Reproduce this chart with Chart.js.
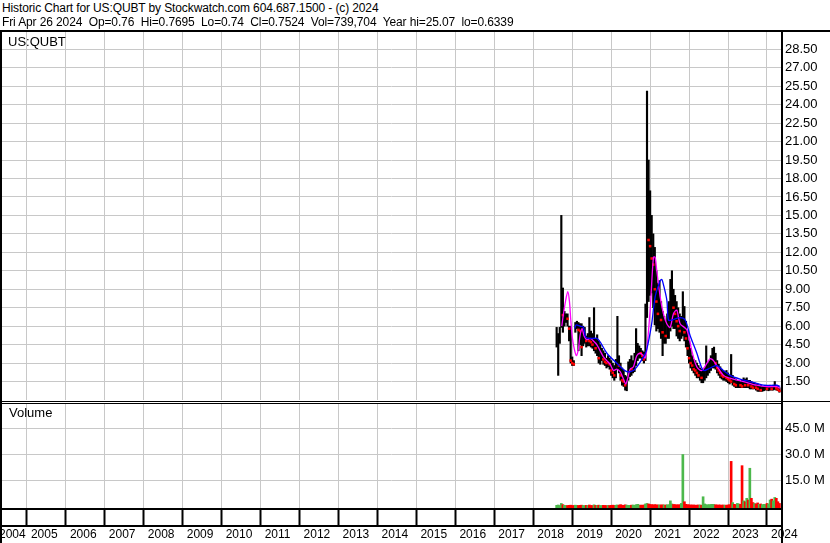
<!DOCTYPE html>
<html>
<head>
<meta charset="utf-8">
<script src="https://cdn.jsdelivr.net/npm/chart.js@4.4.1/dist/chart.umd.min.js"></script>
<style>
html,body{margin:0;padding:0;background:#fff;}
#wrap{position:relative;width:830px;height:543px;overflow:hidden;background:#fff;font-family:"Liberation Sans",Arial,sans-serif;}
.t{position:absolute;font-size:13px;line-height:15px;white-space:pre;color:#000;}
.h{position:absolute;font-size:12px;line-height:14px;white-space:pre;color:#000;letter-spacing:-0.12px;}
.ln{position:absolute;background:#000;pointer-events:none;}
#c1{position:absolute;left:0;top:32px;}
#c2{position:absolute;left:0;top:403px;}
</style>
</head>
<body>
<div id="wrap">
<canvas id="c1" width="830" height="368"></canvas>
<canvas id="c2" width="830" height="140"></canvas>
<div class="h" style="left:2px;top:1px">Historic Chart for US:QUBT by Stockwatch.com 604.687.1500 - (c) 2024</div>
<div class="h" style="left:2px;top:15px">Fri Apr 26 2024  Op=0.76  Hi=0.7695  Lo=0.74  Cl=0.7524  Vol=739,704  Year hi=25.07  lo=0.6339</div>
<div class="t" style="left:8px;top:34px">US:QUBT</div>
<div class="t" style="left:9px;top:405px">Volume</div>
<div class="ln" style="left:0;top:30px;width:830px;height:2px"></div>
<div class="ln" style="left:0;top:30px;width:2px;height:513px"></div>
<div class="ln" style="left:781px;top:30px;width:2px;height:513px"></div>
<div class="ln" style="left:0;top:401px;width:830px;height:1px"></div>
<div class="ln" style="left:0;top:403px;width:781px;height:1px"></div>
<div class="ln" style="left:0;top:508px;width:781px;height:2px"></div>
<div class="ln" style="left:0;top:525px;width:781px;height:2px"></div>
</div>
<script>
// ---------- data ----------
const dates = [
2018.60,2018.64,2018.68,2018.72,2018.76,2018.80,2018.84,2018.88,2018.92,2018.96,
2019.00,2019.04,2019.08,2019.12,2019.16,2019.20,2019.24,2019.28,2019.32,2019.36,
2019.40,2019.44,2019.48,2019.52,2019.56,2019.60,2019.64,2019.68,2019.72,2019.76,
2019.80,2019.84,2019.88,2019.92,2019.96,2020.00,2020.04,2020.08,2020.12,2020.16,
2020.20,2020.24,2020.28,2020.32,2020.36,2020.40,2020.44,2020.48,2020.52,2020.56,
2020.60,2020.64,2020.68,2020.72,2020.76,2020.80,2020.84,2020.88,2020.92,2020.96,
2021.00,2021.04,2021.08,2021.12,2021.16,2021.20,2021.24,2021.28,2021.32,2021.36,
2021.40,2021.44,2021.48,2021.52,2021.56,2021.60,2021.64,2021.68,2021.72,2021.76,
2021.80,2021.84,2021.88,2021.92,2021.96,2022.00,2022.04,2022.08,2022.12,2022.16,
2022.20,2022.24,2022.28,2022.32,2022.36,2022.40,2022.44,2022.48,2022.52,2022.56,
2022.60,2022.64,2022.68,2022.72,2022.76,2022.80,2022.84,2022.88,2022.92,2022.96,
2023.00,2023.04,2023.08,2023.12,2023.16,2023.20,2023.24,2023.28,2023.32,2023.36,
2023.40,2023.44,2023.48,2023.52,2023.56,2023.60,2023.64,2023.68,2023.72,2023.76,
2023.80,2023.84,2023.88,2023.92,2023.96,2024.00,2024.04,2024.08,2024.12,2024.16,
2024.20,2024.24,2024.28,2024.32];
const highs = [
5.9,5.4,5.9,15.0,9.1,7.2,7.0,7.0,6.0,6.0,
3.5,3.2,6.3,6.4,6.3,6.2,6.2,6.0,5.9,5.2,
5.4,6.7,5.6,5.4,7.5,5.0,5.3,4.8,4.5,4.2,
4.0,3.8,3.4,3.6,3.4,3.2,3.0,2.8,3.3,6.8,
3.6,3.0,2.6,2.4,2.0,1.9,3.1,3.3,3.6,3.2,
3.8,5.8,4.6,4.4,4.2,4.0,3.9,7.8,25.1,19.5,
17.0,15.0,13.5,12.4,10.5,9.5,9.7,8.0,7.2,6.8,
6.4,7.0,8.0,9.8,10.5,9.0,8.5,8.0,7.5,7.0,
6.8,8.8,7.6,6.4,5.6,4.8,4.2,3.6,3.3,3.2,
3.0,2.8,2.6,2.5,2.4,2.6,4.4,3.0,3.2,3.6,
4.2,4.3,3.8,3.2,2.9,2.7,2.5,2.4,2.3,2.4,
2.2,2.0,3.7,2.0,1.8,1.7,1.6,1.6,1.5,1.6,
1.8,1.7,1.8,1.6,1.6,1.5,1.4,1.4,1.3,1.3,
1.2,1.2,1.1,1.1,1.2,1.1,1.1,1.2,1.1,1.2,
1.5,1.2,1.1,1.0];
const lows = [
4.3,2.0,4.6,5.9,5.5,6.0,6.3,6.0,4.8,3.0,
2.8,2.8,5.5,5.8,4.0,4.5,3.6,4.4,4.6,4.3,
4.4,4.4,4.3,4.2,4.0,3.8,3.6,3.0,2.9,3.2,
2.9,2.8,2.6,2.7,2.5,2.0,1.8,1.6,1.8,2.5,
2.2,1.6,1.2,1.1,0.8,0.75,1.6,1.9,2.0,2.2,
2.3,2.8,3.2,3.4,3.4,3.2,3.0,3.2,6.7,8.0,
8.5,8.7,7.5,6.1,5.6,5.8,5.5,5.0,3.6,4.6,
4.6,5.0,5.0,5.6,6.0,5.8,5.8,5.2,5.0,4.8,
5.0,5.2,4.8,4.3,3.6,3.0,2.6,2.4,2.2,2.0,
1.8,1.8,1.6,1.4,1.4,1.6,1.8,2.0,2.2,2.4,
2.6,2.6,2.5,2.2,2.0,1.8,1.7,1.6,1.6,1.5,
1.4,1.3,1.4,1.2,1.1,1.0,1.0,1.0,1.0,1.0,
1.0,1.0,1.0,1.0,0.9,0.9,0.9,0.9,0.8,0.7,
0.7,0.7,0.7,0.75,0.8,0.8,0.75,0.8,0.8,0.8,
0.85,0.8,0.75,0.63];
const closes = [
4.6,4.8,5.5,12.5,6.9,6.9,6.9,6.6,5.8,3.2,
3.0,2.9,6.1,6.2,5.7,5.6,4.3,5.0,5.3,4.8,
5.0,4.8,4.7,4.5,4.6,4.2,4.6,3.4,3.5,3.6,
3.3,3.1,3.0,3.2,2.9,2.4,2.2,2.0,2.6,3.2,
2.8,2.0,1.6,1.5,1.2,1.6,2.4,2.6,2.5,2.6,
2.9,3.5,3.8,3.9,3.8,3.6,3.3,6.5,14.0,13.0,
12.5,11.5,11.0,9.0,8.0,7.0,7.5,6.5,5.5,5.8,
5.2,6.0,6.5,7.8,8.4,7.5,7.0,6.4,6.0,5.6,
6.0,6.3,5.5,5.0,4.2,3.4,3.0,2.8,2.5,2.4,
2.2,2.0,2.0,1.8,1.9,2.0,2.2,2.4,2.6,3.0,
3.3,3.6,3.0,2.6,2.4,2.2,2.0,1.9,1.9,1.8,
1.7,1.6,1.5,1.5,1.3,1.2,1.2,1.3,1.2,1.1,
1.3,1.2,1.3,1.2,1.25,1.1,1.0,1.1,1.0,0.9,
0.9,0.8,0.85,0.9,0.95,0.9,0.9,0.95,0.9,0.95,
1.0,0.95,0.85,0.75];
// volume in millions of shares
const volumes = [
0.4,0.6,0.3,1.5,0.8,0.4,0.3,0.3,0.4,0.5,0.3,0.3,
0.5,0.4,0.3,0.4,0.5,0.3,0.3,0.4,0.3,0.6,
0.3,0.3,0.7,0.4,0.4,0.5,0.3,0.3,0.4,0.3,
0.3,0.4,0.3,0.4,0.5,0.4,0.5,0.6,0.5,0.8,
0.5,0.4,0.7,0.5,0.4,0.4,0.5,0.6,0.4,0.8,
1.0,0.6,0.5,0.5,0.6,1.2,
1.5,1.2,0.9,0.8,0.7,0.8,0.7,0.6,0.7,0.6,0.7,0.6,0.6,0.7,0.8,
3.0,
1.2,0.9,0.8,0.7,0.7,0.8,1.5,
30.0,
2.5,1.0,0.8,0.7,0.6,0.6,0.6,0.5,0.5,0.6,0.6,0.5,
5.4,
1.2,0.8,0.7,0.8,0.9,1.0,0.9,0.7,0.6,0.6,0.6,0.5,0.6,0.5,0.5,0.6,0.8,
26.0,
2.0,1.0,0.8,1.5,1.2,1.0,
23.5,
3.0,2.5,4.5,3.5,
22.0,
4.5,2.0,1.5,1.2,1.8,1.0,1.2,0.8,1.0,0.9,1.5,1.2,3.5,4.0,3.0,5.0,4.5,2.5,1.5];
// short moving average (magenta)
const maShortT = [2018.732,2018.775,2018.826,2018.886,2018.929,2018.963,2019.006,2019.057,2019.109,2019.160,
2019.203,2019.254,2019.305,2019.374,2019.459,2019.545,2019.631,2019.716,2019.802,2019.887,
2019.973,2020.058,2020.144,2020.230,2020.315,2020.375,2020.427,2020.486,2020.572,2020.658,
2020.743,2020.829,2020.872,2020.914,2021.000,2021.085,2021.128,2021.171,2021.257,2021.342,
2021.428,2021.513,2021.599,2021.684,2021.770,2021.941,2022.070,2022.198,2022.326,2022.540,
2022.626,2022.883,2023.139,2023.396,2023.738,2023.995,2024.252,2024.337];
const maShortV = [6.0,7.0,8.0,8.8,8.0,6.5,5.0,4.1,3.6,4.2,
5.3,5.8,5.2,4.9,5.0,4.8,4.5,4.0,3.5,3.2,
2.9,2.4,2.5,2.3,1.7,1.3,1.8,2.5,2.7,3.6,
3.8,3.6,3.4,4.1,7.3,11.6,11.6,10.5,8.4,7.0,
6.2,5.9,7.0,7.3,6.2,5.7,4.0,2.7,2.4,3.35,
3.2,2.0,1.7,1.5,1.2,1.08,1.08,0.95];
// long moving average (blue)
const maLongT = [2019.06,2019.10,2019.20,2019.29,2019.35,2019.46,2019.63,2019.72,2019.89,2020.14,
2020.40,2020.57,2020.66,2020.83,2020.91,2021.04,2021.13,2021.26,2021.30,2021.34,
2021.43,2021.47,2021.56,2021.77,2021.90,2022.03,2022.20,2022.28,2022.37,2022.54,
2022.71,2022.88,2023.05,2023.31,2023.57,2023.91,2024.25,2024.34];
const maLongV = [5.8,6.1,6.0,5.9,5.1,5.0,5.0,4.7,3.8,3.0,
2.3,2.4,2.7,3.5,4.05,6.2,8.4,9.7,9.8,9.4,
8.1,6.5,6.5,6.7,6.5,5.2,3.8,3.0,2.4,2.6,
2.8,2.4,2.0,1.7,1.5,1.2,1.2,1.1];
const priceTicks = [1.5,3,4.5,6,7.5,9,10.5,12,13.5,15,16.5,18,19.5,21,22.5,24,25.5,27,28.5];
const volTicks = [15,30,45];
const yearTicks = [2004,2005,2006,2007,2008,2009,2010,2011,2012,2013,2014,2015,2016,2017,2018,2019,2020,2021,2022,2023,2024];
const yearLabels = ['2004','2005','2006','2007','2008','2009','2010','2011','2012','2013','2014','2015','2016','2017','2018','2019','2020','2021','2022','2023','2024'];

// ---------- chart ----------
const X_MIN = 2004.36, X_MAX = 2024.36;
const FONT = '"Liberation Sans", Arial, sans-serif';
Chart.defaults.font.family = FONT;
Chart.defaults.color = '#000';
const GRID = '#c8c8c8';

function xAxis(showLabels) {
  return {
    type: 'linear', min: X_MIN, max: X_MAX, offset: false,
    // the first (partial) year is labelled at the left edge of the plot
    afterBuildTicks: s => { s.ticks = yearTicks.map(v => ({ value: v < X_MIN ? X_MIN - 0.18 : v })); },
    afterFit: s => { s.height = showLabels ? 35 : 0; s.paddingLeft = 0; s.paddingRight = 0; s.paddingTop = 0; s.paddingBottom = 0; },
    grid: showLabels
      ? { color: GRID, lineWidth: 1, offset: false, drawTicks: true, tickLength: 17, tickColor: '#000', tickWidth: 2 }
      : { color: GRID, lineWidth: 1, offset: false, drawTicks: false },
    border: { display: false },
    ticks: showLabels
      ? { display: true, align: 'start', labelOffset: 4, padding: 2, autoSkip: false, maxRotation: 0, minRotation: 0,
          font: { size: 12, family: FONT }, color: '#000',
          callback: (v, i) => yearLabels[i] }
      : { display: false }
  };
}
function yFit(s) { s.width = 49; s.paddingTop = 0; s.paddingBottom = 0; s.paddingLeft = 0; s.paddingRight = 0; }

const priceData = dates.map((d, i) => ({ x: d, y: [lows[i], highs[i]] }));
const downCloseData = dates.map((d, i) => ({ x: d, y: (i > 0 && closes[i] < closes[i - 1]) ? closes[i] : null }));

new Chart(document.getElementById('c1'), {
  type: 'line',
  data: {
    datasets: [
      { type: 'bar', data: priceData, backgroundColor: '#000', barThickness: 1.5, grouped: false, order: 4 },
      { type: 'line', data: downCloseData, showLine: false, pointStyle: 'rect', pointRadius: 1.8,
        pointBackgroundColor: '#ff0000', pointBorderWidth: 0, order: 3 },
      { type: 'line', data: maShortT.map((t, i) => ({ x: t, y: maShortV[i] })), borderColor: '#ff00ff',
        borderWidth: 1.3, pointRadius: 0, tension: 0.3, order: 2 },
      { type: 'line', data: maLongT.map((t, i) => ({ x: t, y: maLongV[i] })), borderColor: '#0000ff',
        borderWidth: 1.3, pointRadius: 0, tension: 0.3, order: 1 }
    ]
  },
  options: {
    responsive: false, animation: false,
    layout: { autoPadding: false, padding: { left: 2, right: 0, top: 0, bottom: 0 } },
    plugins: { legend: { display: false }, tooltip: { enabled: false } },
    scales: {
      x: xAxis(false),
      y: {
        position: 'right', min: 0, max: 29.9,
        afterBuildTicks: s => { s.ticks = priceTicks.map(v => ({ value: v })); },
        afterFit: yFit,
        grid: { color: GRID, lineWidth: 1, drawTicks: false },
        border: { display: false },
        ticks: { padding: 4, font: { size: 13, family: FONT }, color: '#000', callback: v => Number(v).toFixed(2) }
      }
    }
  }
});

const volColors = volumes.map((v, i) => (i === 0 || closes[i] >= closes[i - 1]) ? '#4cb84c' : '#ff0000');
new Chart(document.getElementById('c2'), {
  type: 'line',
  data: {
    datasets: [
      { type: 'bar', data: dates.map((d, i) => ({ x: d, y: volumes[i] })), backgroundColor: volColors,
        barThickness: 2, grouped: false, base: -1.15 }
    ]
  },
  options: {
    responsive: false, animation: false,
    layout: { autoPadding: false, padding: { left: 2, right: 0, top: 0, bottom: 0 } },
    plugins: { legend: { display: false }, tooltip: { enabled: false } },
    scales: {
      x: xAxis(true),
      y: {
        position: 'right', min: -1.15, max: 60,
        afterBuildTicks: s => { s.ticks = volTicks.map(v => ({ value: v })); },
        afterFit: yFit,
        grid: { color: GRID, lineWidth: 1, drawTicks: false },
        border: { display: false },
        ticks: { padding: 4, font: { size: 13, family: FONT }, color: '#000', callback: v => Number(v).toFixed(1) + ' M' }
      }
    }
  }
});
</script>
</body>
</html>
